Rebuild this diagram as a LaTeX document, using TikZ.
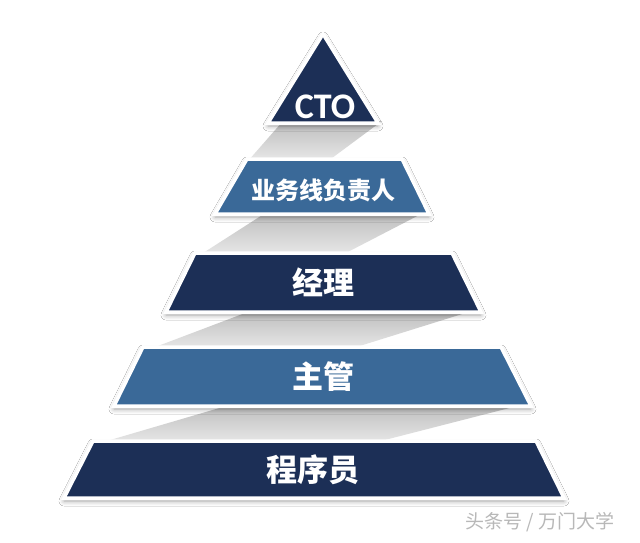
\documentclass[tikz,border=0pt]{standalone}
\usepackage{fontspec}
\usetikzlibrary{shadows.blur}
\newfontfamily\cjk{Noto Sans CJK SC}
\newfontfamily\latf{Carlito}
\definecolor{navy}{HTML}{1C2F56}
\definecolor{steel}{HTML}{3A6998}
\tikzset{
  layer/.style={draw=white,line width=3.5pt,line join=miter,
    blur shadow={shadow xshift=0pt,shadow yshift=-3pt,shadow opacity=35,shadow blur radius=5pt,shadow blur steps=8}},
  band/.style={top color=black!26,bottom color=black!9},
  lbl/.style={text=white,inner sep=0pt},
}
\begin{document}
\begin{tikzpicture}[x=1pt,y=-1pt]
\useasboundingbox[fill=white] (0,0) rectangle (640,542);
% gray ribbons
\shade[band] (283,121) -- (382,121) -- (328,161) -- (248,161) -- cycle;
\shade[band] (267,212) -- (425,212) -- (342,255) -- (200,255) -- cycle;
\shade[band] (253,310) -- (475,310) -- (350,349) -- (150,349) -- cycle;
\shade[band] (233,404) -- (525,404) -- (373,443) -- (100,443) -- cycle;
% layers
\path[layer,fill=navy] (323,34) -- (378,123) -- (268,123) -- cycle;
\path[layer,fill=steel] (247,159) -- (402,159) -- (429,214) -- (215,214) -- cycle;
\path[layer,fill=navy] (195,253) -- (452,253) -- (481,312) -- (166,312) -- cycle;
\path[layer,fill=steel] (143,347) -- (501,347) -- (531,406) -- (114,406) -- cycle;
\path[layer,fill=navy] (93,441) -- (536,441) -- (564,498) -- (64,498) -- cycle;
% labels
\node[lbl,font=\latf\bfseries\fontsize{36}{36}\selectfont] (cto) at (325,107) {CTO};
\node[lbl,font=\cjk\bfseries\fontsize{24}{24}\selectfont] (ywx) at (323,190) {业务线负责人};
\node[lbl,font=\cjk\bfseries\fontsize{31}{31}\selectfont] (jl) at (323,282) {经理};
\node[lbl,font=\cjk\bfseries\fontsize{31}{31}\selectfont] (zg) at (323,377) {主管};
\node[lbl,font=\cjk\bfseries\fontsize{31}{31}\selectfont] (cxy) at (313,470) {程序员};
\node[text=black!28,inner sep=0pt,font=\cjk\fontsize{19}{19}\selectfont] (wm) at (540,522) {头条号 / 万门大学};
\end{tikzpicture}
\end{document}
